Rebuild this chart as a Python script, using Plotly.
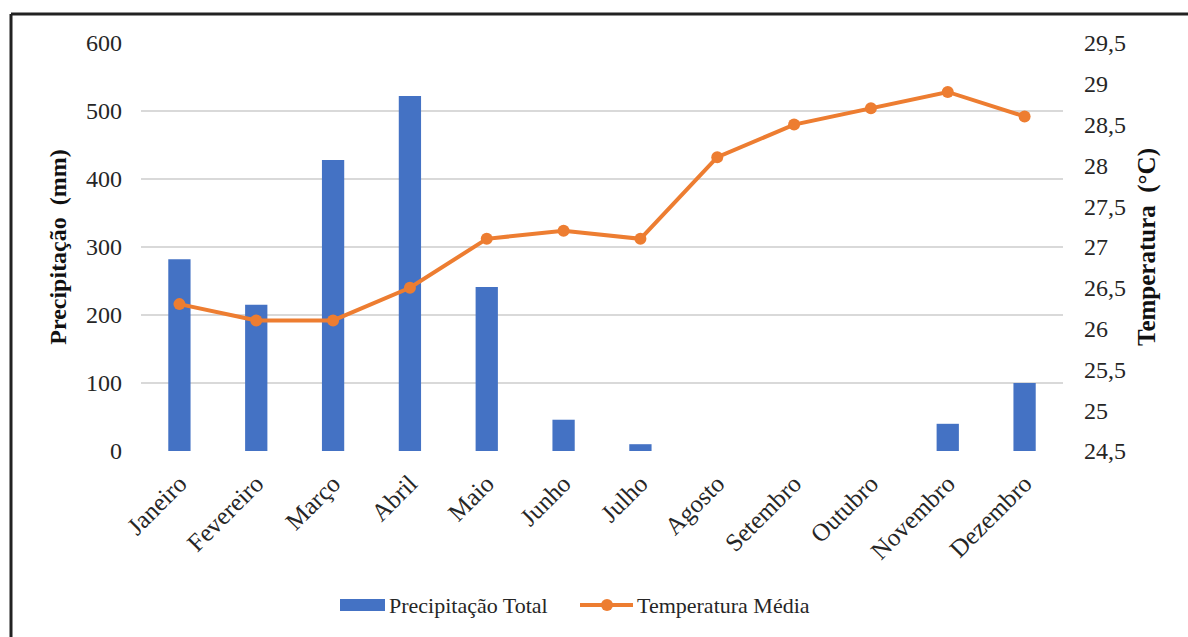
import plotly.graph_objects as go

# Monthly climate data
meses = ["Janeiro", "Fevereiro", "Março", "Abril", "Maio", "Junho", "Julho",
         "Agosto", "Setembro", "Outubro", "Novembro", "Dezembro"]
precipitacao = [282, 215, 428, 522, 241, 46, 10, 0, 0, 0, 40, 100]
temperatura = [26.3, 26.1, 26.1, 26.5, 27.1, 27.2, 27.1, 28.1, 28.5, 28.7, 28.9, 28.6]

prec_ticks = [0, 100, 200, 300, 400, 500, 600]
temp_ticks = [24.5, 25, 25.5, 26, 26.5, 27, 27.5, 28, 28.5, 29, 29.5]
temp_tick_text = ["24,5", "25", "25,5", "26", "26,5", "27", "27,5", "28", "28,5", "29", "29,5"]

FONT = "Liberation Serif"
TXT = "#262626"
BLUE = "#4472C4"
ORANGE = "#ED7D31"

fig = go.Figure()
fig.add_trace(go.Bar(
    x=meses, y=precipitacao, name="Precipitação Total",
    marker=dict(color=BLUE, line=dict(width=0)),
    yaxis="y", showlegend=False,
))
fig.add_trace(go.Scatter(
    x=meses, y=temperatura, name="Temperatura Média",
    mode="lines+markers",
    line=dict(color=ORANGE, width=4),
    marker=dict(color=ORANGE, size=12),
    yaxis="y2", showlegend=False,
))

# plot area in pixels: left 141, right 1063, top 43, bottom 451
L, R, T, B = 141, 1063, 43, 451
W, H = 1188, 637
pw, ph = R - L, B - T

def px(x):
    return (x - L) / pw

def py(y):
    return (B - y) / ph

# legend drawn below the plot: swatch, line sample, labels
legend_y = 605
shapes = [
    # frame: top and left edges
    dict(type="line", xref="paper", yref="paper",
         x0=px(11), x1=px(W + 5), y0=py(14), y1=py(14),
         line=dict(color="#222", width=3)),
    dict(type="line", xref="paper", yref="paper",
         x0=px(11), x1=px(11), y0=py(14), y1=py(H + 5),
         line=dict(color="#222", width=3)),
    # legend: bar swatch
    dict(type="rect", xref="paper", yref="paper",
         x0=px(340), x1=px(385), y0=py(legend_y - 6), y1=py(legend_y + 6),
         fillcolor=BLUE, line=dict(width=0)),
    # legend: line sample with marker
    dict(type="line", xref="paper", yref="paper",
         x0=px(580), x1=px(633), y0=py(legend_y), y1=py(legend_y),
         line=dict(color=ORANGE, width=4)),
    dict(type="circle", xref="paper", yref="paper",
         x0=px(601), x1=px(613), y0=py(legend_y - 6), y1=py(legend_y + 6),
         fillcolor=ORANGE, line=dict(width=0)),
]
annotations = [
    dict(xref="paper", yref="paper", x=px(387), y=py(legend_y), xanchor="left",
         yanchor="middle", showarrow=False, text="Precipitação Total",
         font=dict(family=FONT, size=22, color=TXT)),
    dict(xref="paper", yref="paper", x=px(635), y=py(legend_y), xanchor="left",
         yanchor="middle", showarrow=False, text="Temperatura Média",
         font=dict(family=FONT, size=22, color=TXT)),
]

fig.update_layout(
    width=W, height=H,
    margin=dict(l=L, r=W - R, t=T, b=H - B, autoexpand=False),
    paper_bgcolor="white", plot_bgcolor="white",
    font=dict(family=FONT, color=TXT, size=22),
    bargap=0.71,
    showlegend=False,
    xaxis=dict(
        range=[-0.5, len(meses) - 0.5],
        tickangle=-45, showgrid=False, showline=False, zeroline=False,
        tickfont=dict(family=FONT, size=25, color=TXT),
        ticklabelstandoff=12, automargin=False,
    ),
    yaxis=dict(
        range=[0, 600], tickvals=prec_ticks,
        showgrid=True, gridcolor="#D9D9D9", gridwidth=1.5,
        zeroline=False, showline=False, automargin=False,
        tickfont=dict(family=FONT, size=24, color=TXT),
        ticklabelstandoff=18,
        title=dict(text="<b>Precipitação  (mm)</b>", standoff=12,
                   font=dict(family=FONT, size=24, color="#111")),
    ),
    yaxis2=dict(
        range=[24.5, 29.5], tickvals=temp_ticks, ticktext=temp_tick_text,
        overlaying="y", side="right", showgrid=False, zeroline=False, showline=False,
        automargin=False,
        tickfont=dict(family=FONT, size=24, color=TXT),
        ticklabelstandoff=20,
        title=dict(text="<b>Temperatura  (°C)</b>", standoff=12,
                   font=dict(family=FONT, size=25, color="#111")),
    ),
    shapes=shapes,
    annotations=annotations,
)

fig.write_html("out.html")
